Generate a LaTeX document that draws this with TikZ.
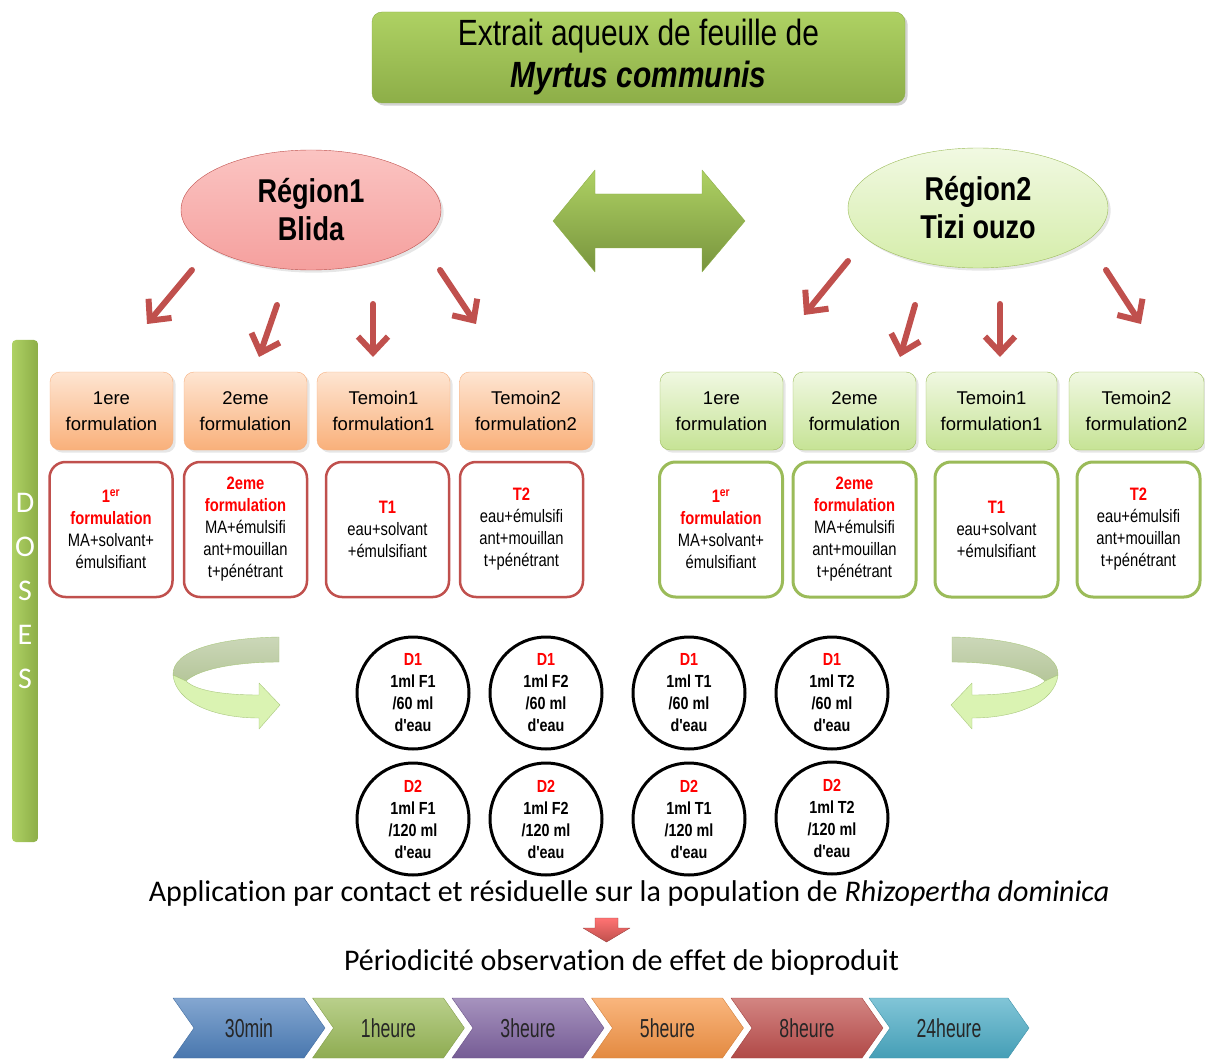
\documentclass[tikz,border=0pt]{standalone}
\usepackage{fontspec}
\setmainfont{Liberation Sans}
\newfontfamily\narrowfont[FakeStretch=0.82]{Liberation Sans}
\newfontfamily\condfont[FakeStretch=0.68]{Liberation Sans}
\newfontfamily\calfont[Ligatures=NoCommon]{Carlito}
\usetikzlibrary{shapes,shapes.symbols,arrows.meta,shadows}
% colours of the scheme
\definecolor{leafgreen}{HTML}{9BBB59}
\definecolor{brickred}{HTML}{C0504D}
\definecolor{ttlTop}{HTML}{AED163}
\definecolor{ttlBot}{HTML}{8DAE48}
\definecolor{pinkTop}{HTML}{FBC4C2}
\definecolor{pinkBot}{HTML}{F5A09E}
\definecolor{mintTop}{HTML}{F1F9E2}
\definecolor{mintBot}{HTML}{D5EDAA}
\definecolor{peachTop}{HTML}{FEE5D2}
\definecolor{peachBot}{HTML}{F9B07A}
\definecolor{peachLine}{HTML}{F6B080}
\definecolor{limeTop}{HTML}{F0F8E2}
\definecolor{limeBot}{HTML}{C6E395}
\definecolor{backband}{HTML}{B5C69A}
\definecolor{frontband}{HTML}{DAF3B2}
\definecolor{bandline}{HTML}{A9C77D}
\definecolor{stBlue}{HTML}{4F81BD}
\definecolor{stGreen}{HTML}{9BBB59}
\definecolor{stPurple}{HTML}{8064A2}
\definecolor{stOrange}{HTML}{F79646}
\definecolor{stRed}{HTML}{C0504D}
\definecolor{stCyan}{HTML}{4BACC6}
\newcommand{\redtxt}[1]{{\color{red}\bfseries #1}}

\begin{document}
\begin{tikzpicture}[%
    x=1pt, y=-1pt,              % one unit = one pixel of the layout
    line join=round,
    ]
% -------------------------------------------------
% Box styles
\tikzset{
  base/.style={align=center, inner sep=2pt},
  ttlbox/.style={base, rounded corners=10, minimum width=533, minimum height=91,
    top color=ttlTop, bottom color=ttlBot, draw=ttlBot,
    drop shadow={opacity=.35}, font=\narrowfont\fontsize{36.5}{42}\selectfont},
  regn/.style={base, ellipse, minimum width=260, minimum height=120, inner sep=0,
    drop shadow={opacity=.2}, font=\narrowfont\bfseries\fontsize{33}{38}\selectfont},
  regL/.style={regn, top color=pinkTop, bottom color=pinkBot, draw=brickred},
  regR/.style={regn, top color=mintTop, bottom color=mintBot, draw=leafgreen},
  % header boxes
  hdr/.style={base, rounded corners=10, minimum width=#1, minimum height=78,
    drop shadow={opacity=.2}, font=\fontsize{18.5}{26}\selectfont},
  hdr/.default=123,
  hdrL/.style={hdr=#1, top color=peachTop, bottom color=peachBot, draw=peachLine},
  hdrL/.default=123,
  hdrR/.style={hdr=#1, top color=limeTop, bottom color=limeBot, draw=leafgreen},
  hdrR/.default=123,
  % composition boxes
  comp/.style={base, rounded corners=16, minimum width=123, minimum height=135,
    fill=white, font=\narrowfont\fontsize{18}{22}\selectfont},
  compL/.style={comp, draw=brickred, line width=2.5pt},
  compR/.style={comp, draw=leafgreen, line width=3pt},
  % doses
  dose/.style={base, circle, draw, line width=3pt, minimum size=112, inner sep=0,
    font=\narrowfont\bfseries\fontsize{17.5}{22}\selectfont},
  dosebar/.style={base, rounded corners=4, minimum width=26, minimum height=502,
    inner sep=0, left color=ttlTop, right color=ttlBot, text=white,
    font=\calfont\fontsize{30}{44}\selectfont},
  capt/.style={base, font=\calfont\fontsize{30}{34}\selectfont},
  % time line
  stagebox/.style={shape=signal, signal from=west, signal to=east,
    signal pointer angle=110, minimum width=152, minimum height=60, inner sep=0,
    draw=#1!85!black, top color=#1!70!white, bottom color=#1!92!black,
    text=black!85, font=\condfont\fontsize{26}{28}\selectfont},
  % connectors
  redarr/.style={draw=brickred, line width=6pt, line cap=round,
    -{Straight Barb[length=16pt, width=30pt]}},
  bigarr/.style={top color=ttlTop, bottom color=ttlBot!85!black, draw=ttlBot},
  turnback/.style={top color=backband!70!white, bottom color=backband, draw=bandline},
  turnfront/.style={fill=frontband, draw=bandline},
}
\useasboundingbox (0,0) rectangle (1205,1059);
% -------------------------------------------------
% Title and the two regions
\node [ttlbox] (ttl) at (638.5,57.5) {Extrait aqueux de feuille de\\\textbf{\textit{Myrtus communis}}};
\node [regL] (r1) at (311,210) {Région1\\Blida};
\node [regR] (r2) at (978,208) {Région2\\Tizi ouzo};
% double arrow between the regions
\path [bigarr] (553,221) -- (595,170) -- (595,194) -- (702,194) -- (702,170)
  -- (745,221) -- (702,272) -- (702,248) -- (595,248) -- (595,272) -- cycle;
% -------------------------------------------------
% Formulation headers, region 1
\node [hdrL] (h1) at (111.5,411) {1ere\\formulation};
\node [hdrL] (h2) at (245.5,411) {2eme\\formulation};
\node [hdrL=133] (h3) at (383.5,411) {Temoin1\\formulation1};
\node [hdrL=133] (h4) at (526,411) {Temoin2\\formulation2};
% Formulation headers, region 2
\node [hdrR] (g1) at (721.5,411) {1ere\\formulation};
\node [hdrR] (g2) at (854.5,411) {2eme\\formulation};
\node [hdrR=131] (g3) at (991.5,411) {Temoin1\\formulation1};
\node [hdrR=135] (g4) at (1136.5,411) {Temoin2\\formulation2};
% -------------------------------------------------
% Compositions, region 1
\node [compL] (c1) at (111,529.5) {\redtxt{1\textsuperscript{er}}\\\redtxt{formulation}\\MA+solvant+\\émulsifiant};
\node [compL] (c2) at (245.5,529.5) {\redtxt{2eme}\\\redtxt{formulation}\\MA+émulsifi\\ant+mouillan\\t+pénétrant};
\node [compL] (c3) at (387.5,529.5) {\redtxt{T1}\\eau+solvant\\+émulsifiant};
\node [compL] (c4) at (521.5,529.5) {\redtxt{T2}\\eau+émulsifi\\ant+mouillan\\t+pénétrant};
% Compositions, region 2
\node [compR] (e1) at (721,529.5) {\redtxt{1\textsuperscript{er}}\\\redtxt{formulation}\\MA+solvant+\\émulsifiant};
\node [compR] (e2) at (854.5,529.5) {\redtxt{2eme}\\\redtxt{formulation}\\MA+émulsifi\\ant+mouillan\\t+pénétrant};
\node [compR] (e3) at (996.5,529.5) {\redtxt{T1}\\eau+solvant\\+émulsifiant};
\node [compR] (e4) at (1138.5,529.5) {\redtxt{T2}\\eau+émulsifi\\ant+mouillan\\t+pénétrant};
% -------------------------------------------------
% Red arrows from the regions to the headers
\coordinate (a1s) at (192,270);  \coordinate (a1e) at (147,324);
\coordinate (a2s) at (277,305);  \coordinate (a2e) at (259,357);
\coordinate (a3s) at (373,304);  \coordinate (a3e) at (373,357);
\coordinate (a4s) at (440,270);  \coordinate (a4e) at (476,324);
\coordinate (b1s) at (848,261);  \coordinate (b1e) at (804,315);
\coordinate (b2s) at (915,305);  \coordinate (b2e) at (900,357);
\coordinate (b3s) at (1000,304); \coordinate (b3e) at (1000,357);
\coordinate (b4s) at (1106,270); \coordinate (b4e) at (1141,324);
\draw [redarr] (a1s) -- (a1e);
\draw [redarr] (a2s) -- (a2e);
\draw [redarr] (a3s) -- (a3e);
\draw [redarr] (a4s) -- (a4e);
\draw [redarr] (b1s) -- (b1e);
\draw [redarr] (b2s) -- (b2e);
\draw [redarr] (b3s) -- (b3e);
\draw [redarr] (b4s) -- (b4e);
% -------------------------------------------------
% Doses bar
\node [dosebar] (bar) at (25,591) {D\\O\\S\\E\\S};
% turning arrows on both sides of the doses
\path [turnback] (279,637) .. controls (220,638) and (172,650) .. (173,675)
  -- (186,681) .. controls (200,668) and (240,662) .. (279,662) -- cycle;
\path [turnfront] (173,675) .. controls (176,703) and (215,718) .. (259,718)
  -- (259,729) -- (280,705) -- (259,683) -- (259,695)
  .. controls (225,695) and (196,691) .. (186,681) -- cycle;
\begin{scope}[xshift=1231pt, xscale=-1]
\path [turnback] (279,637) .. controls (220,638) and (172,650) .. (173,675)
  -- (186,681) .. controls (200,668) and (240,662) .. (279,662) -- cycle;
\path [turnfront] (173,675) .. controls (176,703) and (215,718) .. (259,718)
  -- (259,729) -- (280,705) -- (259,683) -- (259,695)
  .. controls (225,695) and (196,691) .. (186,681) -- cycle;
\end{scope}
% -------------------------------------------------
% Dose circles
\node [dose] (d11) at (413,693) {\redtxt{D1}\\1ml F1\\/60 ml\\d'eau};
\node [dose] (d12) at (546,693) {\redtxt{D1}\\1ml F2\\/60 ml\\d'eau};
\node [dose] (d13) at (689,693) {\redtxt{D1}\\1ml T1\\/60 ml\\d'eau};
\node [dose] (d14) at (832,693) {\redtxt{D1}\\1ml T2\\/60 ml\\d'eau};
\node [dose] (d21) at (413,819) {\redtxt{D2}\\1ml F1\\/120 ml\\d'eau};
\node [dose] (d22) at (546,819) {\redtxt{D2}\\1ml F2\\/120 ml\\d'eau};
\node [dose] (d23) at (689,819) {\redtxt{D2}\\1ml T1\\/120 ml\\d'eau};
\node [dose] (d24) at (832,818) {\redtxt{D2}\\1ml T2\\/120 ml\\d'eau};
% -------------------------------------------------
% Application and observation
\node [capt] (app) at (629,893) {Application par contact et résiduelle sur la population de \textit{Rhizopertha dominica}};
\node [capt] (obs) at (621.5,962) {Périodicité observation de effet de bioproduit};
\path [top color=red!55!white, bottom color=brickred, draw=brickred!80!black]
  (595,918) -- (618,918) -- (618,928) -- (630,928) -- (606.5,942) -- (583,928) -- (595,928) -- cycle;
% -------------------------------------------------
% Time line
\node [stagebox=stBlue] (t1) at (249,1028) {30min};
\node [stagebox=stGreen] (t2) at (388.5,1028) {1heure};
\node [stagebox=stPurple] (t3) at (528,1028) {3heure};
\node [stagebox=stOrange] (t4) at (667.5,1028) {5heure};
\node [stagebox=stRed] (t5) at (807,1028) {8heure};
\node [stagebox=stCyan, minimum width=160] (t6) at (949,1028) {24heure};
% -------------------------------------------------
\end{tikzpicture}
\end{document}
